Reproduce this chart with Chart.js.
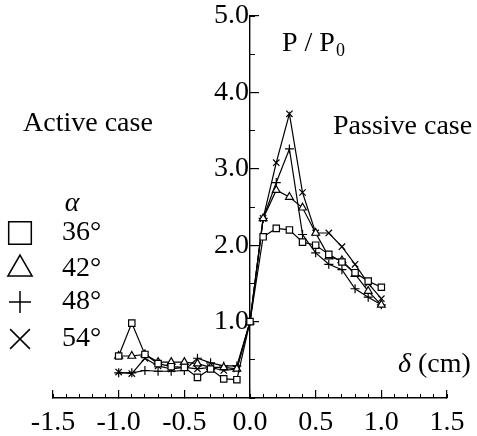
<!DOCTYPE html>
<html><head><meta charset="utf-8">
<script src="https://cdn.jsdelivr.net/npm/chart.js@4/dist/chart.umd.min.js"></script>
<style>html,body{margin:0;padding:0;background:#fff}</style>
</head><body>
<canvas id="c" width="477" height="436"></canvas>
<script>
// ---- data ----
const delta = [-1.0,-0.9,-0.8,-0.7,-0.6,-0.5,-0.4,-0.3,-0.2,-0.1,0.0,0.1,0.2,0.3,0.4,0.5,0.6,0.7,0.8,0.9,1.0];
const p36 = [0.55,0.98,0.57,0.45,0.41,0.40,0.27,0.38,0.25,0.24,1.00,2.11,2.22,2.20,2.04,2.00,1.88,1.78,1.64,1.53,1.45];
const p42 = [0.55,0.55,0.57,0.47,0.47,0.47,0.45,0.40,0.40,0.38,1.00,2.35,2.72,2.63,2.49,2.16,1.85,1.80,1.62,1.40,1.22];
const p48 = [0.33,0.33,0.36,0.35,0.35,0.36,0.52,0.46,0.42,0.42,1.00,2.35,2.82,3.26,2.14,1.90,1.75,1.68,1.43,1.32,1.22];
const p54 = [0.34,0.32,0.52,0.42,0.38,0.40,0.38,0.40,0.36,0.38,1.00,2.35,3.08,3.72,2.69,2.16,2.16,1.98,1.75,1.50,1.30];
const alphaLabels = ['36°','42°','48°','54°'];
const markerStyles = ['rect','triangle','cross','crossRot'];
const xTicks = [-1.5,-1.0,-0.5,0.0,0.5,1.0,1.5];
const yTicks = [1.0,2.0,3.0,4.0,5.0];

const FONT = "'Liberation Serif', 'DejaVu Serif', serif";
Chart.defaults.font.family = FONT;
Chart.defaults.color = '#000';
Chart.defaults.borderColor = '#000';

const series = [p36,p42,p48,p54].map((arr,i)=>({
  label: alphaLabels[i],
  data: delta.map((d,k)=>({x:d,y:arr[k]})),
  borderColor:'#000', borderWidth:1.2,
  pointStyle: markerStyles[i], pointRadius: 4.5,
  pointBorderColor:'#000', pointBackgroundColor:'#fff', pointBorderWidth:1.2,
  tension:0
}));

const fitY = s => { s.width = 0; s.paddingTop = 0; s.paddingBottom = 0; };
const fitX = s => { s.height = 38; s.paddingLeft = 0; s.paddingRight = 0; };
const fitXm = s => { s.height = 0; s.paddingLeft = 0; s.paddingRight = 0; };

const decor = {
  id:'decor',
  afterDraw(chart){
    const ctx = chart.ctx;
    ctx.save();
    ctx.fillStyle='#000';
    ctx.textBaseline='middle';
    ctx.textAlign='left';
    ctx.font = "28px "+FONT;
    ctx.fillText('Active case', 23, 124);
    ctx.fillText('Passive case', 333, 127);
    ctx.fillText('P / P', 282, 44);
    const w = ctx.measureText('P / P').width;
    ctx.font = "18px "+FONT;
    ctx.fillText('0', 282+w+1, 51);
    ctx.font = "italic 28px "+FONT;
    ctx.textAlign='center';
    ctx.fillText('α', 72, 204);
    ctx.textAlign='left';
    ctx.fillText('δ', 398, 365);
    const wd = ctx.measureText('δ').width;
    ctx.font = "28px "+FONT;
    ctx.fillText(' (cm)', 398+wd, 365);
    ctx.restore();
    // legend
    const ly = [233,269,302,339];
    const lr = [16,14,11,14];
    chart.data.datasets.forEach((ds,i)=>{
      ctx.save();
      ctx.strokeStyle='#000'; ctx.fillStyle='#fff'; ctx.lineWidth=1.5;
      Chart.helpers.drawPoint(ctx,{pointStyle:ds.pointStyle,radius:lr[i],borderWidth:1.5,rotation:0},20,ly[i]);
      ctx.restore();
      ctx.save();
      ctx.fillStyle='#000';
      ctx.textBaseline='middle';
      ctx.font = "28px "+FONT;
      ctx.textAlign='left';
      ctx.fillText(ds.label, 62, ly[i]);
      ctx.restore();
    });
  }
};

new Chart(document.getElementById('c'),{
  type:'line',
  data:{datasets:series},
  options:{
    responsive:false, animation:false,
    layout:{padding:{left:53,right:30,top:16,bottom:0}},
    plugins:{legend:{display:false},tooltip:{enabled:false}},
    scales:{
      xm:{type:'linear',axis:'x',min:-1.5,max:1.5,position:'bottom',weight:-5,afterFit:fitXm,
        ticks:{stepSize:0.1,autoSkip:false,maxRotation:0,callback:()=>''},
        grid:{display:true,drawOnChartArea:false,drawTicks:true,tickLength:-4,color:'#000',tickColor:'#000',lineWidth:1},
        border:{display:false}},
      x:{type:'linear',min:-1.5,max:1.5,position:'bottom',weight:5,afterFit:fitX,
        afterBuildTicks:s=>{s.ticks=xTicks.map(v=>({value:v}));},
        grid:{display:true,drawOnChartArea:false,drawTicks:true,tickLength:-8,color:'#000',tickColor:'#000',lineWidth:1.2},
        border:{display:true,color:'#000',width:1.4},
        ticks:{autoSkip:false,maxRotation:0,padding:16,font:{size:28},callback:v=>v.toFixed(1)}},
      y:{type:'linear',min:0,max:5,position:'center',afterFit:fitY,
        afterBuildTicks:s=>{s.ticks=yTicks.map(v=>({value:v}));},
        grid:{display:true,drawOnChartArea:false,drawTicks:true,tickLength:-10,color:'#000',tickColor:'#000',lineWidth:1.2},
        border:{display:true,color:'#000',width:1.4},
        ticks:{autoSkip:false,padding:11,font:{size:28},callback:v=>v.toFixed(1)}},
      ym:{type:'linear',axis:'y',min:0,max:5,position:'center',afterFit:fitY,
        ticks:{stepSize:0.5,autoSkip:false,callback:()=>''},
        grid:{display:true,drawOnChartArea:false,drawTicks:true,tickLength:-5,color:'#000',tickColor:'#000',lineWidth:1},
        border:{display:false}}
    }
  },
  plugins:[decor]
});
</script>
</body></html>
